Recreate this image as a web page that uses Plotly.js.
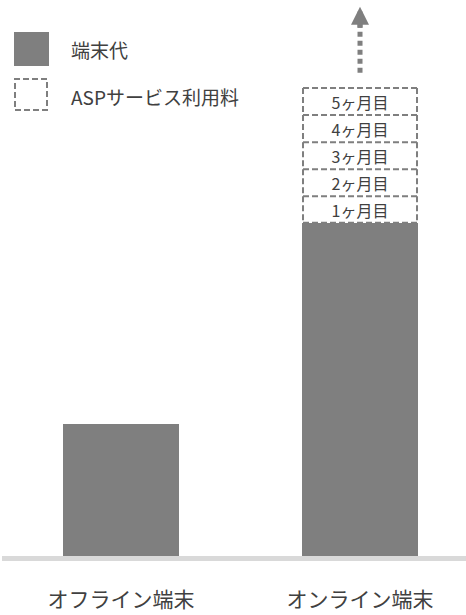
<!DOCTYPE html>
<html>
<head>
<meta charset="utf-8">
<script src="https://cdn.plot.ly/plotly-3.0.1.min.js"></script>
<style>html,body{margin:0;padding:0;background:#fff;}#chart{width:466px;height:615px;}</style>
</head>
<body>
<div id="chart"></div>
<script>
// ---- data ----
const categories = ['オフライン端末', 'オンライン端末'];
const deviceCost = [100, 252];
const monthLabels = ['1ヶ月目', '2ヶ月目', '3ヶ月目', '4ヶ月目', '5ヶ月目'];
const monthlyFee = [20.5, 20.5, 20.5, 20.5, 20.5];
const arrowRange = [366, 403];   // dotted continuation
const arrowTip = 416;
const legendLabels = ['端末代', 'ASPサービス利用料'];

// ---- styling ----
const GRAY = '#7f7f7f';
const TEXT = '#404040';
const FONT = '"Noto Sans CJK JP", "Noto Sans", sans-serif';
const W = 466, H = 615;
const M = {l: 2, r: 0, t: 0, b: 59};
const YMAX = 421.2;
const BW = 0.485;
const px2x = px => (px - M.l) / (W - M.l - M.r);
const py2y = py => (H - M.b - py) / (H - M.t - M.b);
const DASH = {color: GRAY, width: 2, dash: '6px,3px'};

const traces = [];
traces.push({
  type: 'bar', x: categories, y: deviceCost, width: BW,
  marker: {color: GRAY, line: {width: 0}}, hoverinfo: 'skip', name: legendLabels[0]
});
monthLabels.forEach((lab, i) => {
  traces.push({
    type: 'bar', x: [categories[1]], y: [monthlyFee[i]], width: BW,
    marker: {color: 'rgba(255,255,255,0)', line: {width: 0}},
    text: [lab], textposition: 'inside', insidetextanchor: 'middle', textangle: 0, constraintext: 'none',
    textfont: {family: FONT, size: 16, color: TEXT}, hoverinfo: 'skip', name: legendLabels[1]
  });
});
traces.push({
  type: 'scatter', mode: 'lines', x: [categories[1], categories[1]], y: arrowRange,
  line: {color: GRAY, width: 5, dash: '5px,4px'}, hoverinfo: 'skip'
});

const shapes = [];
const bx0 = 1 - BW / 2 + 0.004, bx1 = 1 + BW / 2 - 0.004;
let base = deviceCost[1];
monthlyFee.forEach((v, i) => {
  const top = base + v;
  if (i === 0) shapes.push({type: 'line', xref: 'x', yref: 'y', x0: bx0, x1: bx1, y0: base + 0.5, y1: base + 0.5, line: DASH});
  shapes.push({type: 'line', xref: 'x', yref: 'y', x0: bx0, x1: bx1, y0: top, y1: top, line: DASH});
  shapes.push({type: 'line', xref: 'x', yref: 'y', x0: bx0, x1: bx0, y0: top, y1: base, line: DASH});
  shapes.push({type: 'line', xref: 'x', yref: 'y', x0: bx1, x1: bx1, y0: top, y1: base, line: DASH});
  base = top;
});
// legend swatches
shapes.push({type: 'rect', xref: 'paper', yref: 'paper', x0: px2x(14), x1: px2x(49), y0: py2y(66), y1: py2y(32),
  fillcolor: GRAY, line: {width: 0}});
shapes.push({type: 'rect', xref: 'paper', yref: 'paper', x0: px2x(15), x1: px2x(47), y0: py2y(110), y1: py2y(79),
  fillcolor: 'rgba(0,0,0,0)', line: DASH});

const annotations = [
  {xref: 'paper', yref: 'paper', x: px2x(69), y: py2y(49), xanchor: 'left', yanchor: 'middle',
   text: legendLabels[0], showarrow: false, font: {family: FONT, size: 19, color: TEXT}},
  {xref: 'paper', yref: 'paper', x: px2x(69), y: py2y(96), xanchor: 'left', yanchor: 'middle',
   text: legendLabels[1], showarrow: false, font: {family: FONT, size: 19, color: TEXT}},
  {xref: 'x', yref: 'y', axref: 'x', ayref: 'y', x: categories[1], y: arrowTip, ax: categories[1], ay: arrowRange[1] - 4,
   text: '', showarrow: true, arrowhead: 2, arrowwidth: 5, arrowsize: 0.72, arrowcolor: GRAY}
];

const layout = {
  width: W, height: H, margin: M, paper_bgcolor: '#fff', plot_bgcolor: '#fff',
  barmode: 'stack', showlegend: false,
  font: {family: FONT, color: TEXT},
  xaxis: {type: 'category', range: [-0.498, 1.4435], showgrid: false, zeroline: false,
    showline: true, linecolor: '#d9d9d9', linewidth: 5, ticks: '', ticklabelstandoff: 21,
    tickfont: {family: FONT, size: 21, color: TEXT}, fixedrange: true},
  yaxis: {range: [0, YMAX], visible: false, fixedrange: true},
  shapes: shapes, annotations: annotations
};
Plotly.newPlot('chart', traces, layout, {displayModeBar: false, staticPlot: true});
</script>
</body>
</html>
